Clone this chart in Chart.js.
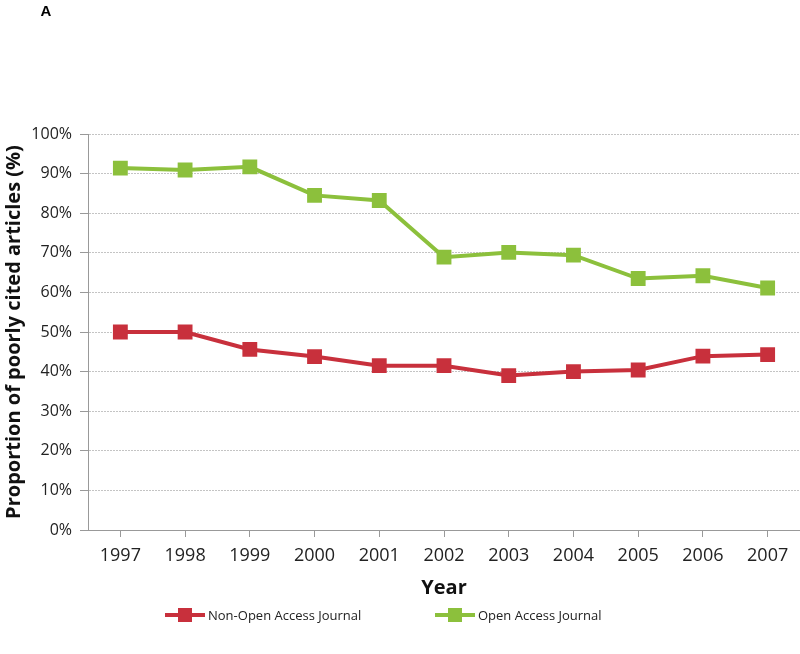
<!DOCTYPE html>
<html>
<head>
<meta charset="utf-8">
<title>Poorly cited articles</title>
<script src="https://cdn.jsdelivr.net/npm/chart.js@4.4.1/dist/chart.umd.min.js"></script>
<style>
  html, body { margin: 0; padding: 0; background: #fff; }
  #wrap { position: relative; width: 800px; height: 654px; overflow: hidden; }
  #legend {
    position: absolute; left: 0; top: 604px; width: 800px; height: 22px;
    font-family: 'Open Sans', sans-serif; font-size: 13px; color: #222;
  }
  .item { position: absolute; top: 0; height: 22px; line-height: 22px; white-space: nowrap; }
  .icon { position: absolute; left: 0; top: 9px; width: 40px; height: 4px; }
  .icon span { position: absolute; left: 13px; top: -5px; width: 14px; height: 14px; }
  .label { position: absolute; left: 43px; top: 0; }
</style>
</head>
<body>
<div id="wrap">
  <canvas id="chart" width="800" height="654"></canvas>
  <div id="legend"></div>
</div>
<script>
var years = ["1997", "1998", "1999", "2000", "2001", "2002", "2003", "2004", "2005", "2006", "2007"];
var nonOpenAccess = [50.0, 50.0, 45.6, 43.8, 41.5, 41.5, 39.0, 40.0, 40.4, 43.9, 44.3];
var openAccess = [91.4, 90.9, 91.7, 84.5, 83.2, 68.9, 70.1, 69.4, 63.5, 64.2, 61.1];
var yTicks = [0, 10, 20, 30, 40, 50, 60, 70, 80, 90, 100];
var seriesNames = ["Non-Open Access Journal", "Open Access Journal"];
var seriesColors = ["#c8303c", "#8cc03c"];
var legendLeft = [165, 435];

var FONT = "'Open Sans', sans-serif";

// panel letter in the top left corner
var panelLetter = {
  id: "panelLetter",
  afterDraw: function (chart) {
    var ctx = chart.ctx;
    ctx.save();
    ctx.fillStyle = "#000";
    ctx.font = "bold 15px 'Liberation Sans', Arial, sans-serif";
    ctx.textAlign = "center";
    ctx.textBaseline = "middle";
    ctx.fillText("A", 46, 12);
    ctx.restore();
  }
};

function makeDataset(i, values) {
  return {
    label: seriesNames[i],
    data: values,
    borderColor: seriesColors[i],
    backgroundColor: seriesColors[i],
    borderWidth: 4,
    pointStyle: "rect",
    pointRadius: 10.5,
    pointBorderWidth: 0,
    pointHoverRadius: 10.5,
    tension: 0
  };
}

var ctx = document.getElementById("chart").getContext("2d");
new Chart(ctx, {
  type: "line",
  data: {
    labels: years,
    datasets: [makeDataset(0, nonOpenAccess), makeDataset(1, openAccess)]
  },
  options: {
    responsive: false,
    animation: false,
    layout: { autoPadding: false, padding: { top: 134, right: 0, left: 0, bottom: 54 } },
    plugins: {
      legend: { display: false },
      tooltip: { enabled: false }
    },
    scales: {
      x: {
        offset: true,
        afterFit: function (scale) {
          scale.height = 70;
          scale.paddingLeft = 0;
          scale.paddingRight = 0;
        },
        grid: {
          offset: false,
          drawOnChartArea: false,
          drawTicks: true,
          tickLength: 7,
          color: "#999"
        },
        border: { color: "#999", width: 1 },
        ticks: {
          color: "#222",
          padding: 8,
          maxRotation: 0,
          font: { family: FONT, size: 18 }
        },
        title: {
          display: true,
          text: "Year",
          color: "#111",
          padding: { top: 2, bottom: 0 },
          font: { family: FONT, size: 20, weight: "bold" }
        }
      },
      y: {
        min: 0,
        max: 100,
        afterFit: function (scale) {
          scale.width = 88;
          scale.paddingTop = 0;
          scale.paddingBottom = 0;
        },
        afterBuildTicks: function (scale) {
          scale.ticks = yTicks.map(function (v) { return { value: v }; });
        },
        grid: {
          color: "#c4c4c4",
          tickColor: "#999",
          drawTicks: true,
          tickLength: 8
        },
        border: { color: "#999", width: 1, dash: [2, 1] },
        ticks: {
          color: "#222",
          padding: 8,
          font: { family: FONT, size: 16 },
          callback: function (v) { return v + "%"; }
        },
        title: {
          display: true,
          text: "Proportion of poorly cited articles (%)",
          color: "#111",
          padding: { top: 2, bottom: 0 },
          font: { family: FONT, size: 20, weight: "bold" }
        }
      }
    }
  },
  plugins: [panelLetter]
});

// legend: line with a square marker, then the series name
var legend = document.getElementById("legend");
for (var i = 0; i < seriesNames.length; i++) {
  var item = document.createElement("div");
  item.className = "item";
  item.style.left = legendLeft[i] + "px";
  item.innerHTML =
    '<div class="icon" style="background:' + seriesColors[i] + '">' +
    '<span style="background:' + seriesColors[i] + '"></span></div>' +
    '<div class="label">' + seriesNames[i] + "</div>";
  legend.appendChild(item);
}
</script>
</body>
</html>
